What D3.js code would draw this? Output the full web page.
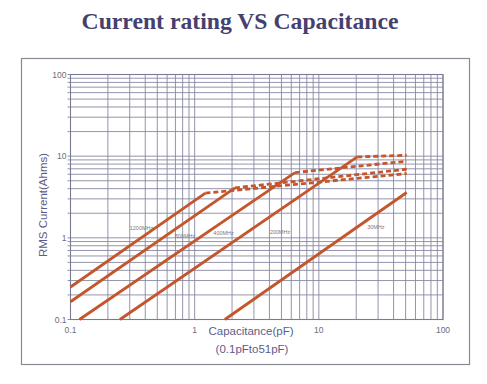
<!DOCTYPE html>
<html><head><meta charset="utf-8">
<script src="https://cdn.jsdelivr.net/npm/d3@7/dist/d3.min.js"></script>
<style>body{margin:0;background:#fff;}svg{display:block;}</style>
</head><body>
<svg id="c" width="487" height="384"></svg>
<script>
// ---- data ----
const xTicks = [0.1, 1, 10, 100];
const yTicks = [0.1, 1, 10, 100];
const xTickLabels = ["0.1", "1", "10", "100"];
const yTickLabels = ["0.1", "1", "10", "100"];
const seriesNames = ["1200MHz", "800MHz", "400MHz", "200MHz", "30MHz"];
// solid segments: [capacitance pF, current A]
const solid1200 = [[0.1, 0.25], [1.22, 3.52]];
const solid800  = [[0.1, 0.165], [2.11, 4.09]];
const solid400  = [[0.118, 0.1], [6.42, 6.3]];
const solid200  = [[0.25, 0.1], [20.4, 9.78]];
const solid30   = [[1.75, 0.1], [51, 3.59]];
// dashed extensions
const dash1200 = [[1.22, 3.52], [51, 6.13]];
const dash800  = [[2.11, 4.09], [51, 6.92]];
const dash400  = [[6.42, 6.3], [51, 8.66]];
const dash200  = [[20.4, 9.78], [51, 10.26]];
// label anchor points [capacitance, current]
const labelPos = [[0.373, 1.26], [0.836, 0.99], [1.71, 1.08], [4.86, 1.11], [28.8, 1.28]];

const svg = d3.select("#c");
const x = d3.scaleLog().domain([0.1, 100]).range([70.5, 443]);
const y = d3.scaleLog().domain([0.1, 100]).range([319.5, 74.5]);

// title
svg.append("text").attr("x", 240).attr("y", 29).attr("text-anchor", "middle")
  .attr("font-family", "Liberation Serif, Times New Roman, serif").attr("font-weight", "bold")
  .attr("font-size", 23.7).attr("fill", "#45406f").text("Current rating VS Capacitance");

// outer box
svg.append("rect").attr("x", 21.5).attr("y", 58.5).attr("width", 448).attr("height", 306)
  .attr("fill", "none").attr("stroke", "#8a8a96").attr("stroke-width", 1.2);

// grid
const gridVals = [];
for (let d = -1; d <= 1; d++) for (let k = 1; k <= 9; k++) gridVals.push(+(k * Math.pow(10, d)).toPrecision(3));
gridVals.push(100);
const g = svg.append("g");
g.selectAll(".v").data(gridVals).join("line")
  .attr("x1", d => x(d)).attr("x2", d => x(d)).attr("y1", y(100)).attr("y2", y(0.1))
  .attr("stroke", "#8888a4").attr("stroke-width", 0.9);
g.selectAll(".h").data(gridVals).join("line")
  .attr("x1", x(0.1) - 3).attr("x2", x(100)).attr("y1", d => y(d)).attr("y2", d => y(d))
  .attr("stroke", "#8888a4").attr("stroke-width", 0.9);
g.append("rect").attr("x", x(0.1)).attr("y", y(100)).attr("width", x(100) - x(0.1)).attr("height", y(0.1) - y(100))
  .attr("fill", "none").attr("stroke", "#7a7a94").attr("stroke-width", 1.1);

// tick labels
const tf = "Liberation Sans, Arial, sans-serif";
svg.selectAll(".xt").data(xTicks).join("text")
  .attr("x", (d) => x(d)).attr("y", 333).attr("text-anchor", "middle")
  .attr("font-family", tf).attr("font-size", 8.5).attr("fill", "#6c6c7c")
  .text((d, i) => xTickLabels[i]);
svg.selectAll(".yt").data(yTicks).join("text")
  .attr("x", x(0.1) - 4).attr("y", d => y(d) + 3).attr("text-anchor", "end")
  .attr("font-family", tf).attr("font-size", 8.5).attr("fill", "#6c6c7c")
  .text((d, i) => yTickLabels[i]);

// axis titles
svg.append("text").attr("transform", "translate(47,205) rotate(-90)").attr("text-anchor", "middle")
  .attr("font-family", tf).attr("font-size", 11.5).attr("fill", "#5c5c8a").text("RMS Current(Ahms)");
svg.append("text").attr("x", 251).attr("y", 335).attr("text-anchor", "middle")
  .attr("font-family", tf).attr("font-size", 11.5).attr("fill", "#5c5c8a").text("Capacitance(pF)");
svg.append("text").attr("x", 252).attr("y", 353).attr("text-anchor", "middle")
  .attr("font-family", tf).attr("font-size", 11.5).attr("fill", "#5c5c8a").text("(0.1pFto51pF)");

// lines
const line = d3.line().x(d => x(d[0])).y(d => y(d[1]));
const lc = "#c4562c";
[solid1200, solid800, solid400, solid200, solid30].forEach(s => {
  svg.append("path").attr("d", line(s)).attr("fill", "none").attr("stroke", lc)
    .attr("stroke-width", 2.8).attr("stroke-linecap", "butt");
});
[dash1200, dash800, dash400, dash200].forEach(s => {
  svg.append("path").attr("d", line(s)).attr("fill", "none").attr("stroke", lc)
    .attr("stroke-width", 2.8).attr("stroke-dasharray", "5,3");
});

// series labels
svg.selectAll(".lab").data(seriesNames).join("text")
  .attr("x", (d, i) => x(labelPos[i][0])).attr("y", (d, i) => y(labelPos[i][1]))
  .attr("text-anchor", "middle").attr("font-family", tf).attr("font-size", 5.5)
  .attr("fill", "#7a7a86").text(d => d);
</script>
</body></html>
